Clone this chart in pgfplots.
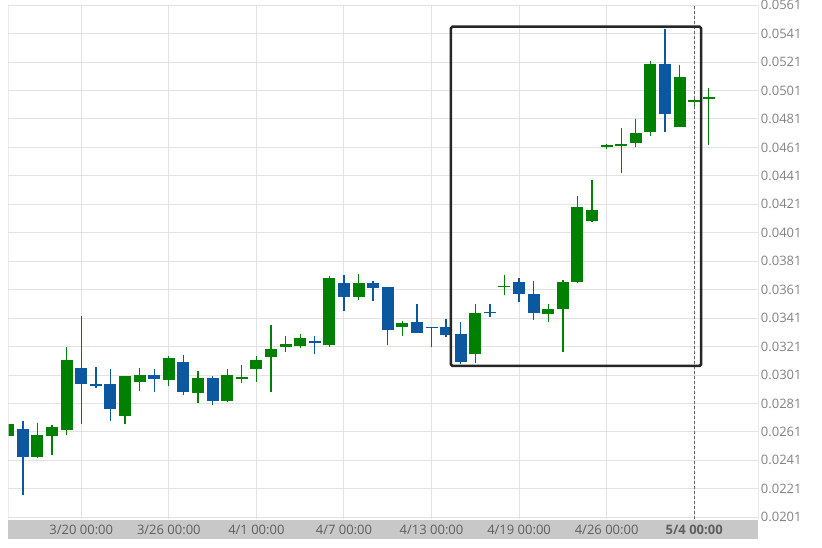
\documentclass[border=0pt]{standalone}
\usepackage{pgfplots}
\pgfplotsset{compat=1.18}
\usepackage{pgfplotstable}
\usepackage{fontspec}
\setmainfont{Open Sans}
\definecolor{cgreen}{RGB}{0,128,0}
\definecolor{cblue}{RGB}{12,88,160}
\definecolor{gridc}{RGB}{226,226,226}
\definecolor{bandc}{RGB}{200,200,200}
\definecolor{ylabc}{RGB}{130,130,130}
\definecolor{xlabc}{RGB}{95,95,95}

% green (rising) candles: index, open, high, low, close
\pgfplotstableread{
k o h l c
-5 0.0258 0.02665 0.0258 0.02665
-3 0.02435 0.02672 0.02426 0.02585
-2 0.02578 0.0266 0.02447 0.02644
-1 0.02625 0.03207 0.0259 0.03115
3 0.02721 0.03005 0.02667 0.0300
4 0.02963 0.03059 0.02899 0.0301
6 0.02975 0.03145 0.0293 0.03133
8 0.02887 0.03035 0.02815 0.02989
10 0.02827 0.03052 0.02817 0.0301
11 0.02983 0.03077 0.02953 0.02995
12 0.03052 0.03145 0.02958 0.03117
13 0.03136 0.03363 0.02892 0.03192
14 0.03204 0.03286 0.03169 0.0323
15 0.03214 0.03298 0.0320 0.03267
17 0.03223 0.03703 0.03207 0.03692
19 0.0356 0.0372 0.03537 0.03654
22 0.0335 0.03387 0.03284 0.03373
27 0.03157 0.03511 0.03098 0.03443
29 0.03626 0.0371 0.03574 0.03638
32 0.03439 0.03509 0.0338 0.03474
33 0.03476 0.0368 0.03173 0.03663
34 0.03664 0.04272 0.03656 0.04193
35 0.0409 0.04383 0.04083 0.04172
36 0.04615 0.04631 0.04599 0.04627
37 0.04617 0.0475 0.0443 0.04636
38 0.04641 0.04812 0.04613 0.04713
39 0.04718 0.05221 0.04687 0.05196
41 0.04755 0.05191 0.04755 0.05107
42 0.04932 0.0495 0.04894 0.04944
43 0.04950 0.05027 0.04624 0.04962
}\greentab

% blue (falling) candles: index, open, high, low, close
\pgfplotstableread{
k o h l c
-4 0.02634 0.0269 0.02168 0.02435
0 0.03056 0.03422 0.02667 0.02944
1 0.02944 0.03066 0.02918 0.02932
2 0.0295 0.03054 0.02686 0.02771
5 0.0301 0.03054 0.02892 0.02982
7 0.03103 0.03152 0.02869 0.02894
9 0.02991 0.0300 0.02801 0.02827
16 0.03249 0.03281 0.03157 0.03232
18 0.03654 0.03715 0.03462 0.0356
20 0.03654 0.03673 0.03532 0.03621
21 0.03626 0.03632 0.03218 0.03328
23 0.03382 0.03509 0.03305 0.03307
24 0.03350 0.03350 0.03207 0.03338
25 0.03347 0.03403 0.03274 0.03288
26 0.0330 0.03382 0.03087 0.03105
28 0.03456 0.03509 0.03417 0.03444
30 0.03663 0.03692 0.03523 0.03581
31 0.03579 0.03668 0.03398 0.03446
40 0.05198 0.05442 0.04722 0.04842
}\bluetab

\begin{document}
\begin{tikzpicture}
\useasboundingbox (-8.3pt,-29.3pt) rectangle (813.7pt,518.7pt);
\fill[bandc] (0pt,-20pt) rectangle (750.1pt,-1pt);
\begin{axis}[
  at={(0pt,0pt)}, anchor=south west,
  scale only axis, width=750.1pt, height=513.5pt,
  xmin=-5, xmax=46.4, ymin=0.0200, ymax=0.0561,
  axis line style={draw=none},
  tick style={draw=none},
  major tick length=0pt,
  xtick={0,6,12,18,24,30,36,42},
  xticklabels={3/20 00:00,3/26 00:00,4/1 00:00,4/7 00:00,4/13 00:00,4/19 00:00,4/26 00:00,\textbf{5/4 00:00}},
  xticklabel style={font=\fontsize{13}{15}\selectfont, text=xlabc, anchor=center, yshift=-11pt},
  ytick={0.0201,0.0221,0.0241,0.0261,0.0281,0.0301,0.0321,0.0341,0.0361,0.0381,0.0401,0.0421,0.0441,0.0461,0.0481,0.0501,0.0521,0.0541,0.0561},
  yticklabel pos=right,
  yticklabel style={font=\fontsize{13}{15}\selectfont, text=ylabc, anchor=west, xshift=-1pt,
    /pgf/number format/.cd, fixed, fixed zerofill, precision=4, assume math mode=true},
  scaled y ticks=false,
  grid=major,
  major grid style={gridc, line width=1pt},
  candle/.style={only marks, mark=*, mark size=0pt, mark options={draw opacity=0, fill opacity=0}, forget plot},
]
% wicks
\addplot[candle,
  error bars/.cd, y dir=plus, y explicit, error mark=none,
  error bar style={cgreen, line width=1.3pt}]
  table[x=k, y=l, y error plus expr=\thisrow{h}-\thisrow{l}] {\greentab};
\addplot[candle,
  error bars/.cd, y dir=plus, y explicit, error mark=none,
  error bar style={cblue, line width=1.3pt}]
  table[x=k, y=l, y error plus expr=\thisrow{h}-\thisrow{l}] {\bluetab};
% bodies
\addplot[candle,
  error bars/.cd, y dir=plus, y explicit, error mark=none,
  error bar style={cgreen, line width=12pt}]
  table[x=k, y=o, y error plus expr=\thisrow{c}-\thisrow{o}] {\greentab};
\addplot[candle,
  error bars/.cd, y dir=plus, y explicit, error mark=none,
  error bar style={cblue, line width=12pt}]
  table[x=k, y=c, y error plus expr=\thisrow{o}-\thisrow{c}] {\bluetab};
% current-time marker and highlight box
\draw[black!60, dashed, dash pattern=on 3pt off 2pt, line width=0.8pt] (axis cs:42,0.0200) -- (axis cs:42,0.0561);
\draw[black!85, line width=2.6pt, rounded corners=1.5pt] (axis cs:25.33,0.03074) rectangle (axis cs:42.47,0.05459);
% frame lines
\draw[gridc, line width=1pt] (axis cs:-5,0.0200) -- (axis cs:-5,0.0561);
\draw[black!22, line width=1pt] (axis cs:46.4,0.0200) -- (axis cs:46.4,0.0561);
\end{axis}
\end{tikzpicture}
\end{document}
